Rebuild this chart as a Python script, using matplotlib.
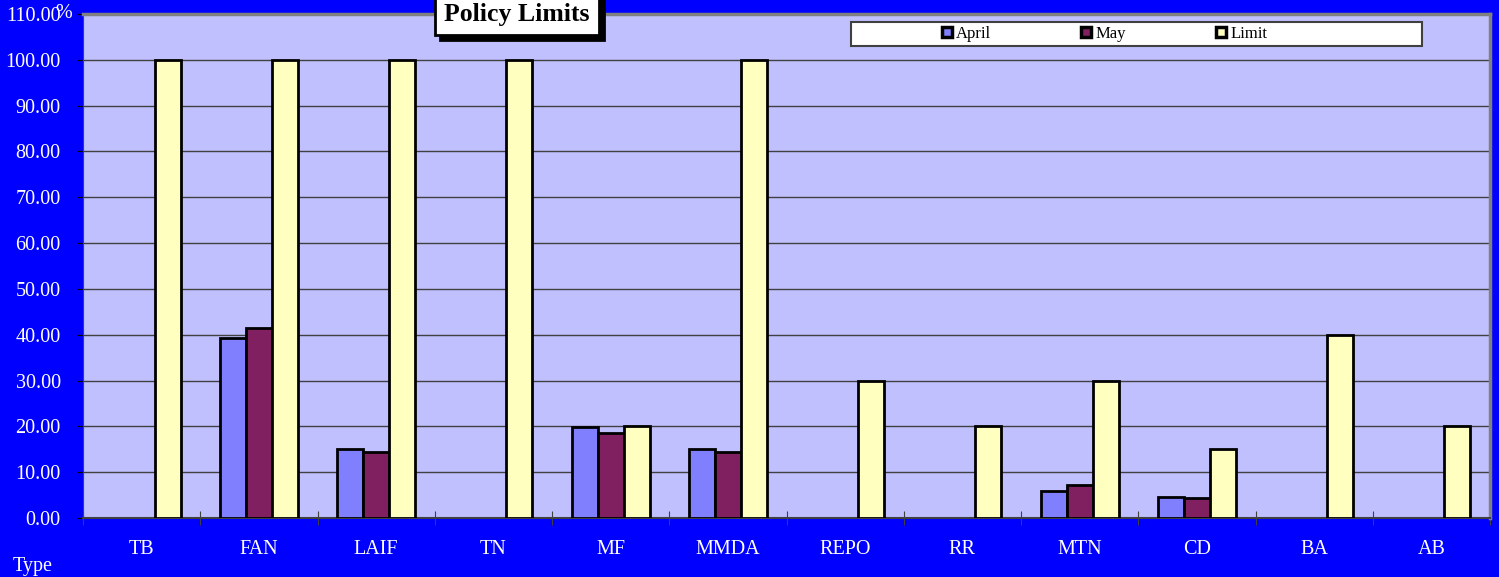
import matplotlib as mpl
mpl.use('Agg')
import matplotlib.pyplot as plt
from matplotlib.patches import Patch
import numpy as np

# data
categories = ['TB', 'FAN', 'LAIF', 'TN', 'MF', 'MMDA', 'REPO', 'RR', 'MTN', 'CD', 'BA', 'AB']
april = [np.nan, 39.2, 15.1, np.nan, 19.9, 15.1, np.nan, np.nan, 6.0, 4.5, np.nan, np.nan]
may = [np.nan, 41.5, 14.3, np.nan, 18.6, 14.4, np.nan, np.nan, 7.1, 4.3, np.nan, np.nan]
limit = [100, 100, 100, 100, 20, 100, 30, 20, 30, 15, 40, 20]
yticks = np.arange(0, 111, 10)

W, H = 1499, 577
plt.rcParams['font.family'] = ['Liberation Serif', 'DejaVu Serif']

fig = plt.figure(figsize=(W / 100, H / 100), dpi=100, facecolor='#0000FF')
ax = fig.add_axes([83 / W, 1 - 518 / H, (1490 - 83) / W, (518 - 14) / H])
ax.set_facecolor('#C0C0FF')

x = np.arange(len(categories))
bw = 0.222
ax.bar(x - bw, april, bw, color='#8080FF', edgecolor='black', linewidth=2, zorder=3)
ax.bar(x, may, bw, color='#802060', edgecolor='black', linewidth=2, zorder=3)
ax.bar(x + bw, limit, bw, color='#FFFFC0', edgecolor='black', linewidth=2, zorder=3)

ax.set_xlim(-0.5, len(categories) - 0.5)
ax.set_ylim(0, 110)
ax.set_yticks(yticks)
ax.set_yticklabels([f'{v:.2f}' for v in yticks])
ax.yaxis.grid(True, color='#404040', linewidth=1, zorder=1)
ax.set_axisbelow(True)

# category boundary ticks + centred labels
ax.set_xticks(np.arange(-0.5, len(categories), 1))
ax.set_xticklabels([])
ax.set_xticks(x, minor=True)
ax.set_xticklabels(categories, minor=True)
ax.tick_params(axis='x', which='major', direction='inout', length=10, color='#404040')
ax.tick_params(axis='x', which='minor', length=0, pad=16, labelsize=14.5, labelcolor='white')
ax.tick_params(axis='y', direction='out', length=4, pad=12, labelsize=14.5, labelcolor='white', color='black')

for s in ['top', 'right']:
    ax.spines[s].set_color('#808080')
    ax.spines[s].set_linewidth(2.5)
ax.spines['left'].set_color('#404040')
ax.spines['bottom'].set_color('#404040')
ax.spines['bottom'].set_linewidth(1.5)

# legend box
fig.patches.append(plt.Rectangle((851 / W, 1 - 46 / H), 571 / W, 24 / H, transform=fig.transFigure,
                                 facecolor='white', edgecolor='#404040', linewidth=1.5, zorder=5))
handles = [Patch(facecolor=c, edgecolor='black', linewidth=2.5) for c in ['#8080FF', '#802060', '#FFFFC0']]
fig.legend(handles, ['April', 'May', 'Limit'], loc='center left', bbox_to_anchor=(942 / W, 1 - 34 / H),
           ncol=3, frameon=False, fontsize=12, handlelength=0.6, handleheight=0.6,
           handletextpad=0.25, columnspacing=5.4, borderpad=0, borderaxespad=0)

# title with shadow
tx, ty = 517 / W, 1 - 15 / H
box = dict(boxstyle='square,pad=0.35', linewidth=2)
fig.text(tx + 5 / W, ty - 5 / H, 'Policy Limits', fontsize=18.5, fontweight='bold', color='black',
         ha='center', va='center', bbox=dict(box, facecolor='black', edgecolor='black'))
fig.text(tx, ty, 'Policy Limits', fontsize=18.5, fontweight='bold', color='black',
         ha='center', va='center', bbox=dict(box, facecolor='white', edgecolor='black'))

fig.text(55 / W, 1 - 14 / H, '%', fontsize=14.5, color='white', va='center')
fig.text(13 / W, 1 - 566 / H, 'Type', fontsize=14.5, color='white', va='center')

fig.savefig('out.png', dpi=100, facecolor=fig.get_facecolor())
